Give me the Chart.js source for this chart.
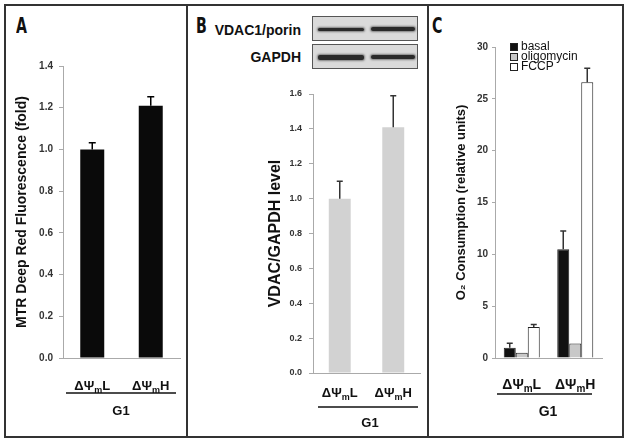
<!DOCTYPE html>
<html>
<head>
<meta charset="utf-8">
<script src="https://cdn.jsdelivr.net/npm/chart.js@4.4.1/dist/chart.umd.min.js"></script>
<style>
body { margin: 0; background: #fff; }
#wrap { position: relative; width: 629px; height: 443px; overflow: hidden; font-family: "Liberation Sans", Arial, sans-serif; }
canvas { position: absolute; left: 0; top: 0; }
.frame { position: absolute; left: 4px; top: 4px; width: 620px; height: 434px; border: 2px solid #333; box-sizing: border-box; }
.divider { position: absolute; top: 4px; width: 2px; height: 434px; background: #333; }
.letter { position: absolute; font: bold 21px "DejaVu Sans Condensed", "Liberation Sans Narrow", sans-serif; line-height: 21px; color: #111; transform: scaleX(0.75); transform-origin: left top; }
.blotlabel { position: absolute; width: 120px; text-align: right; font: bold 14px "Liberation Sans", Arial, sans-serif; line-height: 16px; color: #111; }
.blot { position: absolute; background: #dadada; border: 1.5px solid #555; box-sizing: border-box; }
.band { position: absolute; background: #2a2a2a; border-radius: 2px; box-shadow: 0 0 2px 1px rgba(50,50,50,0.55); }
</style>
</head>
<body>
<div id="wrap">
  <div class="frame"></div>
  <div class="divider" style="left:186px"></div>
  <div class="divider" style="left:427px"></div>

  <div class="letter" style="left:16px;top:16px">A</div>
  <div class="letter" style="left:196px;top:16px">B</div>
  <div class="letter" style="left:432px;top:16px">C</div>

  <!-- western blot strips for panel B -->
  <div class="blotlabel" style="left:181px;top:22px">VDAC1/porin</div>
  <div class="blotlabel" style="left:181px;top:49px">GAPDH</div>
  <div class="blot" style="left:312px;top:16px;width:106px;height:25px">
    <div class="band" style="left:5px;top:11px;width:46px;height:3px"></div>
    <div class="band" style="left:58px;top:10px;width:44px;height:4px"></div>
  </div>
  <div class="blot" style="left:312px;top:44px;width:106px;height:25px">
    <div class="band" style="left:5px;top:10px;width:46px;height:5px"></div>
    <div class="band" style="left:58px;top:10px;width:44px;height:4px"></div>
  </div>

  <canvas id="chartA" width="629" height="443"></canvas>
  <canvas id="chartB" width="629" height="443"></canvas>
  <canvas id="chartC" width="629" height="443"></canvas>
</div>

<script>
// categories shared by all three panels
const categories = ['ΔΨmL', 'ΔΨmH'];
const groupName = 'G1';

// panel A - MTR deep red
const mtrValues = [1.0, 1.21];
const mtrSD = [0.032, 0.043];

// panel B - VDAC/GAPDH
const vdacValues = [1.0, 1.41];
const vdacSD = [0.10, 0.18];

// panel C - O2 consumption
const treatments = ['basal', 'oligomycin', 'FCCP'];
const basalValues = [1.0, 10.5];
const basalSD = [0.42, 1.75];
const oligoValues = [0.5, 1.4];
const oligoSD = [0, 0];
const fccpValues = [3.0, 26.6];
const fccpSD = [0.23, 1.35];

Chart.defaults.font.family = '"Liberation Sans", Arial, sans-serif';
Chart.defaults.color = '#333';

const FONT = '"Liberation Sans", Arial, sans-serif';

// draws "ΔΨ" + subscript m + rest
function drawPsiLabel(ctx, text, cx, cy, size) {
  const head = text.slice(0, 2), sub = text.slice(2, 3), tail = text.slice(3);
  const big = 'bold ' + size + 'px ' + FONT;
  const small = 'bold ' + Math.round(size * 0.7) + 'px ' + FONT;
  ctx.font = big;
  const w1 = ctx.measureText(head).width, w3 = ctx.measureText(tail).width;
  ctx.font = small;
  const w2 = ctx.measureText(sub).width;
  let x = cx - (w1 + w2 + w3) / 2;
  ctx.textAlign = 'left';
  ctx.font = big;
  ctx.fillText(head, x, cy);
  x += w1;
  ctx.font = small;
  ctx.fillText(sub, x, cy + size * 0.32);
  x += w2;
  ctx.font = big;
  ctx.fillText(tail, x, cy);
}

const groupAxis = {
  id: 'groupAxis',
  afterDraw(chart, args, opts) {
    const ctx = chart.ctx;
    const xs = chart.scales.x;
    ctx.save();
    ctx.fillStyle = '#111';
    ctx.textBaseline = 'middle';
    chart.data.labels.forEach((lab, i) => {
      drawPsiLabel(ctx, lab, xs.getPixelForValue(i), opts.labelY, opts.size);
    });
    ctx.strokeStyle = '#111';
    ctx.lineWidth = 1.5;
    ctx.beginPath();
    ctx.moveTo(opts.lineX0, opts.lineY);
    ctx.lineTo(opts.lineX1, opts.lineY);
    ctx.stroke();
    ctx.font = 'bold ' + opts.size + 'px ' + FONT;
    ctx.textAlign = 'center';
    ctx.fillText(groupName, opts.groupX, opts.groupY);
    ctx.restore();
  }
};

const errorBars = {
  id: 'errorBars',
  afterDatasetsDraw(chart, args, opts) {
    const ctx = chart.ctx;
    const ys = chart.scales.y;
    ctx.save();
    ctx.strokeStyle = opts.color;
    ctx.lineWidth = opts.width;
    chart.data.datasets.forEach((ds, di) => {
      const meta = chart.getDatasetMeta(di);
      meta.data.forEach((bar, i) => {
        const sd = ds.sd ? ds.sd[i] : 0;
        if (!sd) return;
        const top = ys.getPixelForValue(ds.data[i] + sd);
        ctx.beginPath();
        ctx.moveTo(bar.x, bar.y);
        ctx.lineTo(bar.x, top);
        ctx.moveTo(bar.x - opts.cap / 2, top);
        ctx.lineTo(bar.x + opts.cap / 2, top);
        ctx.stroke();
      });
    });
    ctx.restore();
  }
};

const boxLegend = {
  id: 'boxLegend',
  afterDraw(chart, args, opts) {
    if (!opts.show) return;
    const ctx = chart.ctx;
    ctx.save();
    ctx.font = '12px ' + FONT;
    ctx.textBaseline = 'middle';
    ctx.textAlign = 'left';
    chart.data.datasets.forEach((ds, i) => {
      const yy = opts.y + i * opts.step;
      ctx.fillStyle = ds.backgroundColor;
      ctx.fillRect(opts.x, yy - 4, 8, 8);
      ctx.strokeStyle = '#222';
      ctx.lineWidth = 1;
      ctx.strokeRect(opts.x + 0.5, yy - 3.5, 7, 7);
      ctx.fillStyle = '#111';
      ctx.fillText(ds.label, opts.x + 11, yy);
    });
    ctx.restore();
  }
};

function barChart(id, datasets, y, pad, extra) {
  return new Chart(document.getElementById(id), {
    type: 'bar',
    data: { labels: categories, datasets: datasets },
    options: {
      responsive: false,
      animation: false,
      layout: { padding: pad },
      plugins: {
        legend: { display: false },
        tooltip: { enabled: false },
        groupAxis: extra.group,
        errorBars: extra.err,
        boxLegend: extra.legend || { show: false }
      },
      scales: {
        x: {
          grid: { drawOnChartArea: false, drawTicks: false },
          border: { color: '#aaa', width: 1 },
          ticks: { display: false }
        },
        y: {
          min: 0,
          max: y.max,
          afterFit: s => { s.width = y.width; },
          ticks: {
            stepSize: y.step,
            padding: y.tickPad,
            color: '#333',
            font: { size: y.tickSize, weight: 'bold' },
            callback: v => y.decimals ? Number(v).toFixed(1) : v
          },
          grid: { drawOnChartArea: false, drawTicks: true, tickLength: y.tickLen, color: '#aaa' },
          border: { color: '#aaa', width: 1 },
          title: {
            display: true,
            text: y.title,
            color: '#111',
            font: { size: y.titleSize, weight: 'bold' },
            padding: { top: y.titlePad, bottom: 0 }
          }
        }
      }
    },
    plugins: [errorBars, groupAxis, boxLegend]
  });
}

// A
barChart('chartA', [{
  label: 'MTR',
  data: mtrValues,
  sd: mtrSD,
  backgroundColor: '#0a0a0a',
  barPercentage: 0.41,
  categoryPercentage: 1
}], {
  max: 1.4, step: 0.2, width: 53, tickPad: 6, tickLen: 4, tickSize: 10, decimals: true,
  title: 'MTR Deep Red Fluorescence (fold)', titleSize: 14, titlePad: 4
}, { left: 10, top: 66, right: 449, bottom: 85 }, {
  group: { labelY: 386, size: 13, lineY: 393, lineX0: 66, lineX1: 176, groupX: 121, groupY: 411 },
  err: { color: '#000', width: 1.5, cap: 7 }
});

// B
barChart('chartB', [{
  label: 'VDAC/GAPDH',
  data: vdacValues,
  sd: vdacSD,
  backgroundColor: '#d2d2d2',
  barPercentage: 0.41,
  categoryPercentage: 1
}], {
  max: 1.6, step: 0.2, width: 55, tickPad: 7, tickLen: 4, tickSize: 9, decimals: true,
  title: 'VDAC/GAPDH level', titleSize: 16, titlePad: 8
}, { left: 258, top: 94, right: 209, bottom: 70 }, {
  group: { labelY: 393, size: 13, lineY: 407, lineX0: 318, lineX1: 418, groupX: 370, groupY: 423 },
  err: { color: '#333', width: 1.5, cap: 6 }
});

// C
const cCommon = { barPercentage: 1, categoryPercentage: 0.673, borderColor: '#222', borderWidth: 1 };
barChart('chartC', [
  Object.assign({ label: treatments[0], data: basalValues, sd: basalSD, backgroundColor: '#111' }, cCommon),
  Object.assign({ label: treatments[1], data: oligoValues, sd: oligoSD, backgroundColor: '#c8c8c8' }, cCommon),
  Object.assign({ label: treatments[2], data: fccpValues, sd: fccpSD, backgroundColor: '#ffffff' }, cCommon)
], {
  max: 30, step: 5, width: 47, tickPad: 4, tickLen: 3, tickSize: 10, decimals: false,
  title: 'O₂ Consumption (relative units)', titleSize: 13, titlePad: 6
}, { left: 448, top: 47, right: 27, bottom: 85 }, {
  group: { labelY: 385, size: 14, lineY: 394, lineX0: 497, lineX1: 592, groupX: 548, groupY: 412 },
  err: { color: '#333', width: 1.5, cap: 6 },
  legend: { show: true, x: 510, y: 47, step: 10 }
});
</script>
</body>
</html>
